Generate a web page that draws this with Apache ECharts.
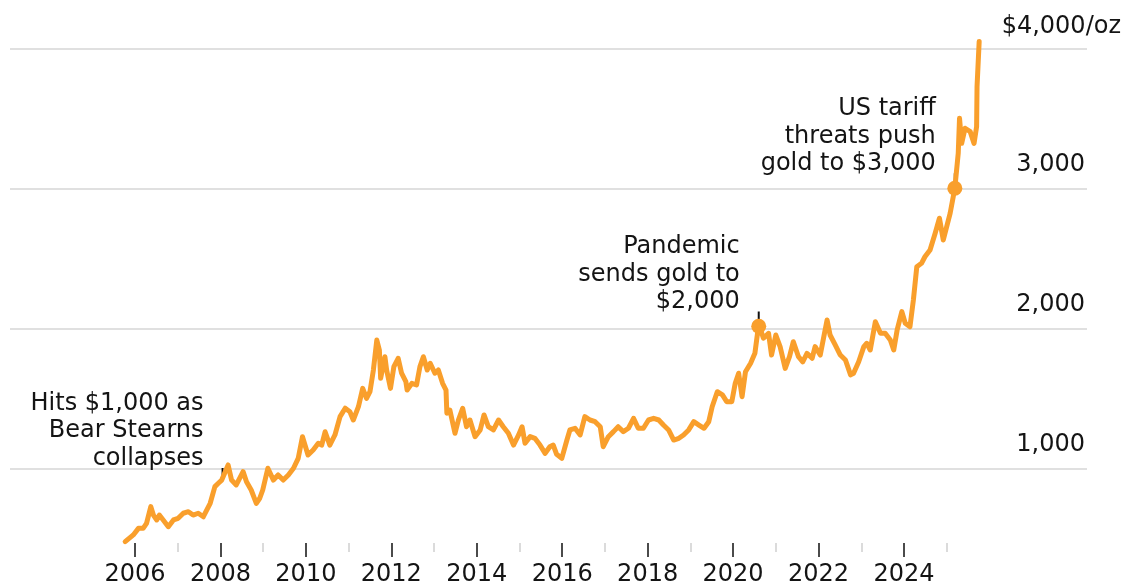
<!DOCTYPE html>
<html>
<head>
<meta charset="utf-8">
<script src="https://cdn.jsdelivr.net/npm/echarts@6/dist/echarts.min.js"></script>
<style>
html,body{margin:0;padding:0;background:#ffffff;}
#chart{width:1125px;height:587px;}
</style>
</head>
<body>
<div id="chart"></div>
<script>
// ---- data ----
const years = [
 2005.77,2005.96,2006.08,2006.19,2006.27,2006.37,2006.43,2006.51,2006.57,2006.66,2006.78,2006.90,
 2007.01,2007.13,2007.25,2007.36,2007.48,2007.60,2007.76,2007.87,2007.95,
 2008.03,2008.18,2008.26,2008.37,2008.53,2008.61,2008.72,2008.84,2008.92,2008.99,
 2009.11,2009.24,2009.35,2009.47,2009.59,2009.71,2009.82,2009.92,
 2010.05,2010.17,2010.29,2010.37,2010.45,2010.56,2010.68,2010.80,2010.92,
 2011.03,2011.11,2011.23,2011.33,2011.42,2011.50,2011.58,2011.66,2011.72,2011.75,2011.85,2011.89,2011.98,
 2012.06,2012.16,2012.24,2012.34,2012.37,2012.48,2012.59,2012.67,2012.75,2012.84,2012.91,
 2013.02,2013.10,2013.20,2013.28,2013.30,2013.37,2013.49,2013.57,2013.67,2013.76,2013.84,2013.96,
 2014.08,2014.17,2014.27,2014.39,2014.51,2014.62,2014.74,2014.86,2014.98,
 2015.06,2015.13,2015.25,2015.36,2015.48,2015.60,2015.71,2015.79,2015.87,2015.99,
 2016.11,2016.18,2016.30,2016.42,2016.53,2016.65,2016.77,2016.89,2016.96,
 2017.08,2017.20,2017.31,2017.43,2017.55,2017.67,2017.78,2017.90,
 2018.02,2018.14,2018.26,2018.37,2018.49,2018.61,2018.73,2018.84,2018.96,
 2019.08,2019.20,2019.32,2019.43,2019.51,2019.63,2019.75,2019.85,2019.97,
 2020.05,2020.13,2020.21,2020.29,2020.41,2020.51,2020.60,2020.71,2020.83,2020.90,
 2021.00,2021.10,2021.22,2021.32,2021.41,2021.53,2021.63,2021.73,2021.85,2021.92,
 2022.04,2022.20,2022.27,2022.39,2022.51,2022.63,2022.75,2022.82,2022.94,
 2023.06,2023.13,2023.21,2023.33,2023.45,2023.56,2023.68,2023.76,2023.84,2023.95,
 2024.03,2024.14,2024.22,2024.30,2024.41,2024.49,2024.61,2024.73,2024.83,2024.92,
 2025.00,2025.08,2025.19,2025.27,2025.30,2025.35,2025.43,2025.55,2025.64,2025.70,2025.71,2025.76
];
const prices = [
 476,524,571,571,607,726,666,631,666,631,583,631,
 643,679,690,666,679,654,750,869,893,
 916,1024,916,881,976,904,845,750,786,845,
 1000,916,952,916,952,1000,1071,1226,
 1095,1131,1179,1165,1261,1166,1238,1369,1429,
 1404,1345,1440,1571,1500,1547,1702,1916,1845,1643,1797,1702,1571,
 1726,1786,1679,1619,1559,1607,1595,1726,1797,1702,1750,
 1679,1702,1607,1559,1393,1416,1250,1345,1429,1297,1345,1226,
 1274,1381,1297,1274,1345,1297,1250,1166,1238,
 1297,1179,1226,1214,1166,1107,1154,1166,1100,1071,
 1202,1274,1286,1238,1369,1345,1333,1297,1154,
 1226,1262,1297,1262,1286,1357,1286,1286,
 1345,1357,1345,1309,1274,1202,1214,1238,1274,
 1333,1309,1286,1333,1440,1547,1524,1476,1476,
 1607,1679,1511,1690,1750,1821,2030,1929,1964,1809,
 1952,1869,1714,1797,1904,1797,1761,1821,1786,1869,
 1809,2059,1952,1881,1809,1774,1667,1679,1761,
 1869,1893,1845,2047,1964,1964,1916,1845,1988,2119,
 2036,2011,2202,2440,2464,2511,2559,2679,2786,2631,
 2726,2821,3000,3250,3500,3321,3429,3405,3321,3440,3726,4048
];
const majorTickYears = [2006,2008,2010,2012,2014,2016,2018,2020,2022,2024];
const minorTickYears = [2007,2009,2011,2013,2015,2017,2019,2021,2023,2025];
const yTickValues = [1000,2000,3000,4000];
const topLabel = '$4,000/oz';

const annotationYears = [2008.05, 2020.60, 2025.19];
const annotationTickFrom = [945, 2060, 3050];
const annotationTickTo = [1003, 2120, 3107];
const annotationTexts = [
 'Hits $1,000 as\nBear Stearns\ncollapses',
 'Pandemic\nsends gold to\n$2,000',
 'US tariff\nthreats push\ngold to $3,000'
];
const dotYears = [2020.60, 2025.19];
const dotPrices = [2015, 3000];

// ---- styles ----
const ORANGE = '#F99F2C';
const FONT = 'DejaVu Sans';
const TEXT = '#141414';
const FS = 24;

const xMin = 2003.074, xMax = 2028.284;

const fmt = v => v.toLocaleString('en-US');

const series = [{
  type: 'line',
  data: years.map((y, i) => [y, prices[i]]),
  symbol: 'none',
  showSymbol: false,
  clip: false,
  lineStyle: { color: ORANGE, width: 5, join: 'round', cap: 'round' },
  z: 3,
  silent: true
}];

annotationYears.forEach((yr, i) => {
  series.push({
    type: 'line',
    data: [[yr, annotationTickFrom[i]], [yr, annotationTickTo[i]]],
    symbol: 'none',
    lineStyle: { color: '#111111', width: 2 },
    z: 2,
    silent: true
  });
});

series.push({
  type: 'scatter',
  data: dotYears.map((y, i) => [y, dotPrices[i]]),
  symbol: 'circle',
  symbolSize: 15,
  itemStyle: { color: ORANGE, opacity: 1 },
  z: 4,
  silent: true
});

series.push({
  type: 'scatter',
  data: annotationYears.map((y, i) => ({ value: [y, annotationTickTo[i]], label: { formatter: annotationTexts[i] } })),
  symbolSize: 0,
  itemStyle: { color: '#ffffff', opacity: 1 },
  label: {
    show: true,
    position: [-19, -37],
    align: 'right',
    verticalAlign: 'middle',
    fontFamily: FONT,
    fontSize: FS,
    lineHeight: 27.5,
    color: TEXT,
    opacity: 1
  },
  z: 5,
  silent: true
});

const option = {
  animation: false,
  backgroundColor: '#ffffff',
  grid: { left: 10, right: 38, top: 48.3, bottom: -21.3, outerBoundsMode: 'none', containLabel: false },
  xAxis: [{
    type: 'value', min: xMin, max: xMax, position: 'bottom', offset: -65.3,
    axisLine: { show: false },
    splitLine: { show: false },
    axisTick: { show: true, customValues: majorTickYears, length: 14, lineStyle: { color: '#111111', width: 1.5 } },
    axisLabel: { show: true, customValues: majorTickYears, margin: 20, fontFamily: FONT, fontSize: FS, color: TEXT, formatter: v => String(v) }
  }, {
    type: 'value', min: xMin, max: xMax, position: 'bottom', offset: -65.3,
    axisLine: { show: false },
    splitLine: { show: false },
    axisTick: { show: true, customValues: minorTickYears, length: 9, lineStyle: { color: '#cfcfcf', width: 1.5 } },
    axisLabel: { show: false }
  }],
  yAxis: [{
    type: 'value', min: 0, max: 4000, interval: 1000, position: 'right',
    axisLine: { show: false }, axisTick: { show: false },
    splitLine: { show: true, lineStyle: { color: '#d6d6d6', width: 1.5 } },
    axisLabel: {
      inside: true, margin: 2, verticalAlign: 'bottom', padding: [0, 0, 12, 0],
      fontFamily: FONT, fontSize: FS, color: TEXT,
      formatter: v => (yTickValues.indexOf(v) >= 0 && v !== 4000) ? fmt(v) : ''
    }
  }, {
    type: 'value', min: 0, max: 4000, interval: 1000, position: 'right',
    axisLine: { show: false }, axisTick: { show: false }, splitLine: { show: false },
    axisLabel: {
      inside: true, margin: -34, verticalAlign: 'bottom', padding: [0, 0, 10, 0],
      fontFamily: FONT, fontSize: FS, color: TEXT,
      formatter: v => v === 4000 ? topLabel : ''
    }
  }],
  series: series
};

const chart = echarts.init(document.getElementById('chart'), null, { renderer: 'canvas' });
chart.setOption(option);
</script>
</body>
</html>
